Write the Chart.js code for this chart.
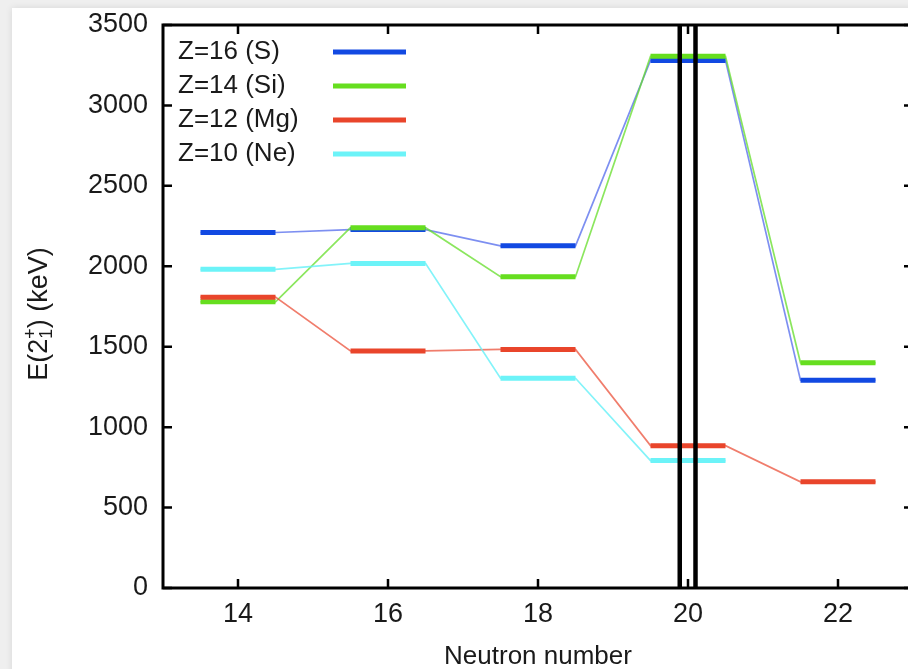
<!DOCTYPE html>
<html>
<head>
<meta charset="utf-8">
<script src="https://cdn.jsdelivr.net/npm/chart.js@4"></script>
<style>
  html, body { margin:0; padding:0; width:908px; height:669px; overflow:hidden; background:#efefef; }
  #card { position:absolute; left:12px; top:8px; width:960px; height:720px; background:#fff; box-shadow:0 0 7px rgba(0,0,0,.10); }
  #wrap { position:absolute; left:0; top:0; width:930px; height:669px; }
</style>
</head>
<body>
<div id="card"></div>
<div id="wrap"><canvas id="c" width="930" height="669"></canvas></div>
<script>
// E(2+) level energies (keV) per neutron number
const neutronNumbers = [14, 16, 18, 20, 22];
const seriesNames = ['Z=16 (S)', 'Z=14 (Si)', 'Z=12 (Mg)', 'Z=10 (Ne)'];
const sulfurE    = [2210, 2228, 2127, 3280, 1292];
const siliconE   = [1779, 2240, 1935, 3305, 1400];
const magnesiumE = [1808, 1474, 1483, 885, 660];
const neonE      = [1981, 2018, 1304, 792, null];
const shellLines = [19.89, 20.1];
const xTickValues = [14, 16, 18, 20, 22];
const yTickValues = [0, 500, 1000, 1500, 2000, 2500, 3000, 3500];

const seriesValues = [sulfurE, siliconE, magnesiumE, neonE];
const seriesColors = ['#1249e2', '#66de1f', '#e9452b', '#6cf3f8'];
const linkColors = ['rgba(70,95,235,.7)', 'rgba(100,222,40,.75)', 'rgba(233,70,45,.7)', 'rgba(100,240,248,.8)'];
const FONT = '"Liberation Sans", Arial, Helvetica, sans-serif';
const half = 0.5;

function levelPoints(vals){
  const pts = [];
  neutronNumbers.forEach((n, i) => {
    if (vals[i] == null) return;
    pts.push({x:n-half, y:vals[i]}, {x:n+half, y:vals[i]}, {x:n+half, y:null});
  });
  return pts;
}
function linkPoints(vals){
  const pts = [];
  neutronNumbers.forEach((n, i) => {
    if (vals[i] == null) return;
    pts.push({x:n-half, y:vals[i]}, {x:n+half, y:vals[i]});
  });
  return pts;
}

const datasets = [];
seriesValues.forEach((vals, i) => {
  datasets.push({ label: seriesNames[i], data: levelPoints(vals), borderColor: seriesColors[i],
    borderWidth: 5, pointRadius: 0, spanGaps: false, order: 4 - i, borderCapStyle: 'butt' });
});
seriesValues.forEach((vals, i) => {
  datasets.push({ label: 'link' + i, data: linkPoints(vals), borderColor: linkColors[i],
    borderWidth: 1.7, pointRadius: 0, order: 20 - i });
});
shellLines.forEach(x => {
  datasets.push({ label: 'shell', data: [{x:x, y:0}, {x:x, y:3500}], borderColor: '#000',
    borderWidth: 4.5, pointRadius: 0, order: 0 });
});

const decor = {
  id: 'decor',
  afterDraw(chart){
    const {ctx, chartArea:a, scales:{x, y}} = chart;
    ctx.save();
    ctx.strokeStyle = '#000';
    ctx.lineWidth = 3;
    ctx.strokeRect(a.left, a.top, a.right - a.left, a.bottom - a.top);
    ctx.lineWidth = 2.5;
    ctx.beginPath();
    xTickValues.forEach(v => {
      const px = x.getPixelForValue(v);
      ctx.moveTo(px, a.bottom); ctx.lineTo(px, a.bottom - 9);
      ctx.moveTo(px, a.top); ctx.lineTo(px, a.top + 9);
    });
    yTickValues.forEach(v => {
      const py = y.getPixelForValue(v);
      ctx.moveTo(a.left, py); ctx.lineTo(a.left + 9, py);
      ctx.moveTo(a.right, py); ctx.lineTo(a.right - 9, py);
    });
    ctx.stroke();

    // legend: text on the left, line sample on the right
    ctx.font = '26px ' + FONT;
    ctx.fillStyle = '#1a1a1a';
    ctx.textBaseline = 'middle';
    ctx.textAlign = 'left';
    seriesNames.forEach((name, i) => {
      const ly = 52 + i * 34;
      ctx.fillText(name, 178, ly);
      ctx.strokeStyle = seriesColors[i];
      ctx.lineWidth = 5;
      ctx.beginPath(); ctx.moveTo(333, ly); ctx.lineTo(406, ly); ctx.stroke();
    });

    // y-axis title with stacked sup/sub
    ctx.translate(40, 314);
    ctx.rotate(-Math.PI / 2);
    const big = '27px ' + FONT, small = '18px ' + FONT;
    ctx.font = big;
    const p1 = 'E(2', p3 = ') (keV)';
    const w1 = ctx.measureText(p1).width, w3 = ctx.measureText(p3).width;
    ctx.font = small;
    const w2 = Math.max(ctx.measureText('+').width, ctx.measureText('1').width);
    let sx = -(w1 + w2 + w3) / 2;
    ctx.font = big; ctx.fillText(p1, sx, 0); sx += w1;
    ctx.font = small;
    ctx.fillText('+', sx, -9);
    ctx.fillText('1', sx, 7);
    sx += w2;
    ctx.font = big; ctx.fillText(p3, sx, 0);
    ctx.restore();
  }
};

new Chart(document.getElementById('c'), {
  type: 'line',
  data: { datasets },
  plugins: [decor],
  options: {
    responsive: false,
    animation: false,
    layout: { padding: { top: 25, right: 17, left: 0, bottom: 0 } },
    plugins: { legend: { display: false }, tooltip: { enabled: false } },
    scales: {
      x: {
        type: 'linear', min: 13, max: 23,
        grid: { display: false, drawTicks: false }, border: { display: false },
        afterBuildTicks: s => { s.ticks = xTickValues.map(v => ({value: v})); },
        afterFit: s => { s.height = 81; s.paddingLeft = 0; s.paddingRight = 0; },
        ticks: { font: { size: 27, family: FONT }, color: '#1a1a1a', padding: 10, callback: v => String(v) },
        title: { display: true, text: 'Neutron number', font: { size: 26, family: FONT }, color: '#1a1a1a', padding: { top: 0, bottom: -3 } }
      },
      y: {
        min: 0, max: 3500,
        grid: { display: false, drawTicks: false }, border: { display: false },
        afterBuildTicks: s => { s.ticks = yTickValues.map(v => ({value: v})); },
        afterFit: s => { s.width = 163; s.paddingTop = 0; s.paddingBottom = 0; },
        ticks: { font: { size: 27, family: FONT }, color: '#1a1a1a', padding: 15, callback: v => String(v) }
      }
    }
  }
});
</script>
</body>
</html>
